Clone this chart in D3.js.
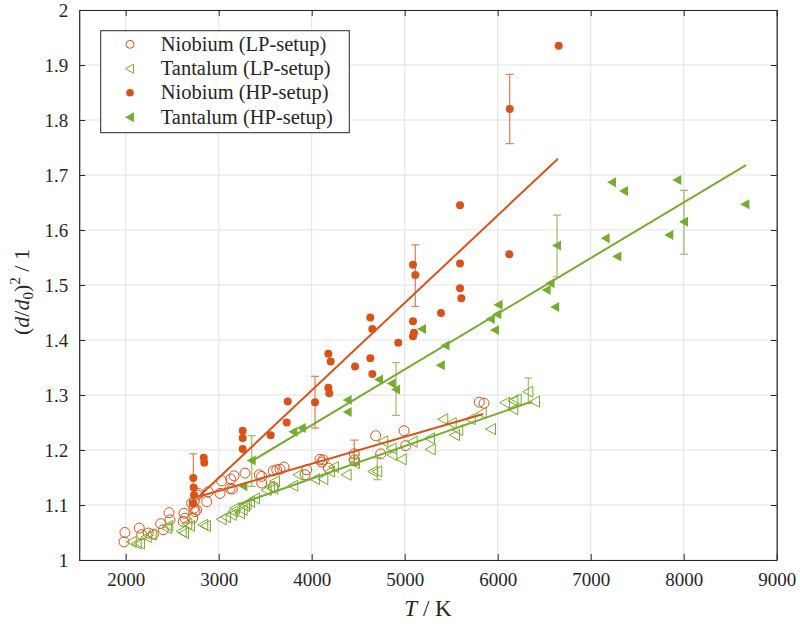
<!DOCTYPE html>
<html>
<head>
<meta charset="utf-8">
<script src="https://cdn.jsdelivr.net/npm/d3@7"></script>
<style>
  body { margin: 0; background: #fff; }
  text { font-family: "Liberation Serif", "Times New Roman", serif; fill: #262626; }
</style>
</head>
<body>
<svg width="800" height="627"></svg>
<script>
// Data: [T in K, (d/d0)^2]
const nbLP = [[1982,1.033],[1992,1.050],[2146,1.058],[2172,1.046],[2243,1.049],[2297,1.047],[2376,1.066],[2404,1.055],
  [2466,1.086],[2476,1.073],[2619,1.070],[2627,1.085],[2638,1.076],[2710,1.103],[2720,1.076],[2734,1.094],[2738,1.107],
  [2745,1.088],[2763,1.091],[2770,1.118],[2781,1.121],[2871,1.106],[2888,1.124],[3014,1.121],[3032,1.144],[3122,1.130],
  [3129,1.147],[3146,1.129],[3165,1.153],[3283,1.158],[3437,1.155],[3462,1.152],[3462,1.140],[3587,1.162],[3587,1.133],
  [3624,1.164],[3659,1.165],[3702,1.169],[3928,1.155],[3946,1.164],[4089,1.183],[4108,1.178],[4125,1.182],[4179,1.167],
  [4458,1.193],[4458,1.182],[4688,1.226],[4742,1.193],[4993,1.235],[5011,1.208],[5802,1.287],[5853,1.285]];
const taLP = [[2065,1.033],[2118,1.030],[2154,1.030],[2226,1.042],[2280,1.046],[2441,1.058],[2458,1.062],[2602,1.052],
  [2627,1.049],[2662,1.066],[2691,1.062],[2834,1.064],[2863,1.062],[3032,1.074],[3078,1.078],[3140,1.082],[3157,1.088],
  [3175,1.094],[3229,1.085],[3258,1.091],[3283,1.098],[3301,1.102],[3337,1.106],[3390,1.112],[3516,1.127],[3552,1.133],
  [3587,1.130],[3605,1.143],[3802,1.135],[3856,1.155],[4036,1.147],[4125,1.147],[4197,1.161],[4240,1.169],[4376,1.155],
  [4455,1.182],[4466,1.176],[4662,1.161],[4705,1.161],[4770,1.216],[4860,1.203],[4867,1.191],[4968,1.183],[5086,1.215],
  [5272,1.221],[5280,1.201],[5415,1.256],[5505,1.249],[5541,1.227],[5576,1.236],[5710,1.256],[5828,1.267],[5928,1.238],
  [6079,1.286],[6168,1.290],[6168,1.274],[6204,1.292],[6329,1.306],[6401,1.288]];
const nbHP = [[2727,1.149],[2731,1.132],[2735,1.118],[2722,1.103],[2839,1.186],[2845,1.177],[3258,1.235],[3258,1.222],
  [3258,1.202],[3559,1.227],[3731,1.250],[3742,1.288],[4036,1.287],[4179,1.375],[4204,1.361],[4179,1.313],[4189,1.303],
  [4466,1.352],[4630,1.367],[4652,1.338],[4630,1.441],[4652,1.420],[4931,1.395],[5089,1.537],[5114,1.518],[5089,1.434],
  [5100,1.413],[5089,1.407],[5390,1.449],[5595,1.645],[5595,1.539],[5595,1.494],[5609,1.476],[6125,1.556],[6129,1.820],
  [6656,1.935]];
const taHP = [[3265,1.134],[3355,1.181],[3802,1.233],[3893,1.240],[4387,1.291],[4387,1.269],[4724,1.328],[4860,1.321],
  [4907,1.310],[5186,1.420],[5388,1.354],[5439,1.390],[5925,1.438],[5971,1.418],[5996,1.447],[6009,1.464],[6527,1.491],
  [6568,1.503],[6618,1.460],[6638,1.572],[7161,1.585],[7229,1.687],[7286,1.552],[7358,1.671],[7845,1.591],[7931,1.691],
  [8003,1.615],[8663,1.647]];

// Error bars: [T, centre, half-width]
const nbLPErr = [[4458,1.195,0.023]];
const taLPErr = [[4705,1.166,0.020],[6329,1.308,0.023]];
const nbHPErr = [[2727,1.149,0.044],[4036,1.287,0.047],[5114,1.517,0.056],[6129,1.820,0.063]];
const taHPErr = [[3355,1.180,0.046],[4907,1.311,0.048],[6638,1.571,0.056],[8003,1.614,0.058]];

// Linear fits: end points
const nbLPFit = [[2781,1.115],[5845,1.2655]];
const taLPFit = [[3208,1.101],[6366,1.288]];
const nbHPFit = [[2781,1.1145],[6648,1.7296]];
const taHPFit = [[3337,1.178],[8670,1.718]];

const xTicks = [2000,3000,4000,5000,6000,7000,8000,9000];
const yTicks = [1,1.1,1.2,1.3,1.4,1.5,1.6,1.7,1.8,1.9,2];
const legendLabels = ["Niobium (LP-setup)","Tantalum (LP-setup)","Niobium (HP-setup)","Tantalum (HP-setup)"];

const orange = "#D95319", green = "#77AC30", axisColor = "#262626";

const svg = d3.select("svg");
const x = d3.scaleLinear().domain([1500, 9000]).range([79.2, 776.7]);
const y = d3.scaleLinear().domain([1, 2]).range([560, 10]);

// Grid
const grid = svg.append("g");
grid.selectAll(".gx").data(xTicks).join("line")
  .attr("x1", d => x(d)).attr("x2", d => x(d)).attr("y1", y(1)).attr("y2", y(2))
  .attr("stroke", "#e3e3e3").attr("stroke-width", 1);
grid.selectAll(".gy").data(yTicks).join("line")
  .attr("x1", x(1500)).attr("x2", x(9000)).attr("y1", d => y(d)).attr("y2", d => y(d))
  .attr("stroke", "#e3e3e3").attr("stroke-width", 1);

// Markers
const triOpen = "M-5.5,0L4.5,-5.5L4.5,5.5Z";
const triFill = "M-5,0L4,-5L4,5Z";

const marks = svg.append("g");
marks.selectAll(".nbLP").data(nbLP).join("circle")
  .attr("cx", d => x(d[0])).attr("cy", d => y(d[1])).attr("r", 5)
  .attr("fill", "none").attr("stroke", orange).attr("stroke-width", 1);
marks.selectAll(".taLP").data(taLP).join("path")
  .attr("d", triOpen).attr("transform", d => `translate(${x(d[0])},${y(d[1])})`)
  .attr("fill", "none").attr("stroke", green).attr("stroke-width", 1);
marks.selectAll(".nbHP").data(nbHP).join("circle")
  .attr("cx", d => x(d[0])).attr("cy", d => y(d[1])).attr("r", 4)
  .attr("fill", orange);
marks.selectAll(".taHP").data(taHP).join("path")
  .attr("d", triFill).attr("transform", d => `translate(${x(d[0])},${y(d[1])})`)
  .attr("fill", green);

// Error bars
function errorBars(data, color) {
  const g = svg.append("g").attr("stroke", color).attr("stroke-width", 1.2).attr("opacity", 0.75);
  data.forEach(d => {
    const cx = x(d[0]), top = y(d[1] + d[2]), bot = y(d[1] - d[2]);
    g.append("line").attr("x1", cx).attr("x2", cx).attr("y1", top).attr("y2", bot);
    g.append("line").attr("x1", cx - 4).attr("x2", cx + 4).attr("y1", top).attr("y2", top);
    g.append("line").attr("x1", cx - 4).attr("x2", cx + 4).attr("y1", bot).attr("y2", bot);
  });
}
errorBars(nbLPErr, orange);
errorBars(taLPErr, green);
errorBars(nbHPErr, orange);
errorBars(taHPErr, green);

// Fit lines
const line = d3.line().x(d => x(d[0])).y(d => y(d[1]));
[[nbLPFit, orange], [taLPFit, green], [nbHPFit, orange], [taHPFit, green]].forEach(([f, c]) => {
  svg.append("path").datum(f).attr("d", line)
    .attr("fill", "none").attr("stroke", c).attr("stroke-width", 2);
});

// Axes (ticks inward, box on)
function styleAxis(g) {
  g.select(".domain").attr("stroke", axisColor).attr("stroke-width", 1.2);
  g.selectAll(".tick line").attr("stroke", axisColor).attr("stroke-width", 1);
  g.selectAll(".tick text").attr("font-size", 19).attr("fill", axisColor)
    .style("font-family", "'Liberation Serif', serif");
}
svg.append("g").attr("transform", `translate(0,${y(1)})`)
  .call(d3.axisBottom(x).tickValues(xTicks).tickSize(-6).tickSizeOuter(0).tickPadding(13).tickFormat(d => String(d)))
  .call(styleAxis);
svg.append("g").attr("transform", `translate(0,${y(2)})`)
  .call(d3.axisTop(x).tickValues(xTicks).tickSize(-6).tickSizeOuter(0).tickFormat(""))
  .call(styleAxis);
svg.append("g").attr("transform", `translate(${x(1500)},0)`)
  .call(d3.axisLeft(y).tickValues(yTicks).tickSize(-6).tickSizeOuter(0).tickPadding(11).tickFormat(d => String(d)))
  .call(styleAxis);
svg.append("g").attr("transform", `translate(${x(9000)},0)`)
  .call(d3.axisRight(y).tickValues(yTicks).tickSize(-6).tickSizeOuter(0).tickFormat(""))
  .call(styleAxis);

// Axis titles
const xt = svg.append("text").attr("x", 428).attr("y", 616).attr("text-anchor", "middle").attr("font-size", 23);
xt.append("tspan").attr("font-style", "italic").text("T");
xt.append("tspan").text(" / K");

const yt = svg.append("text").attr("transform", "translate(29,292) rotate(-90)")
  .attr("text-anchor", "middle").attr("font-size", 22);
yt.append("tspan").text("(");
yt.append("tspan").attr("font-style", "italic").text("d");
yt.append("tspan").text("/");
yt.append("tspan").attr("font-style", "italic").text("d");
yt.append("tspan").attr("font-size", 15).attr("dy", 4).text("0");
yt.append("tspan").attr("dy", -4).text(")");
yt.append("tspan").attr("font-size", 15).attr("dy", -9).text("2");
yt.append("tspan").attr("dy", 9).text(" / 1");

// Legend
const lg = svg.append("g");
lg.append("rect").attr("x", 100.7).attr("y", 30.7).attr("width", 248.6).attr("height", 102)
  .attr("fill", "#fff").attr("stroke", axisColor).attr("stroke-width", 1);
const rowY = [44.3, 68.7, 92.7, 117.3];
const lx = 130;
lg.append("circle").attr("cx", lx).attr("cy", rowY[0]).attr("r", 4)
  .attr("fill", "none").attr("stroke", orange);
lg.append("path").attr("d", "M-4.5,0L3.5,-4.5L3.5,4.5Z").attr("transform", `translate(${lx},${rowY[1]})`)
  .attr("fill", "none").attr("stroke", green);
lg.append("circle").attr("cx", lx).attr("cy", rowY[2]).attr("r", 3.8).attr("fill", orange);
lg.append("path").attr("d", "M-5,0L4,-5L4,5Z").attr("transform", `translate(${lx},${rowY[3]})`).attr("fill", green);
lg.selectAll(".lt").data(legendLabels).join("text")
  .attr("x", 160.7).attr("y", (d, i) => rowY[i] + 6.5).attr("font-size", 20.5).text(d => d);
</script>
</body>
</html>
